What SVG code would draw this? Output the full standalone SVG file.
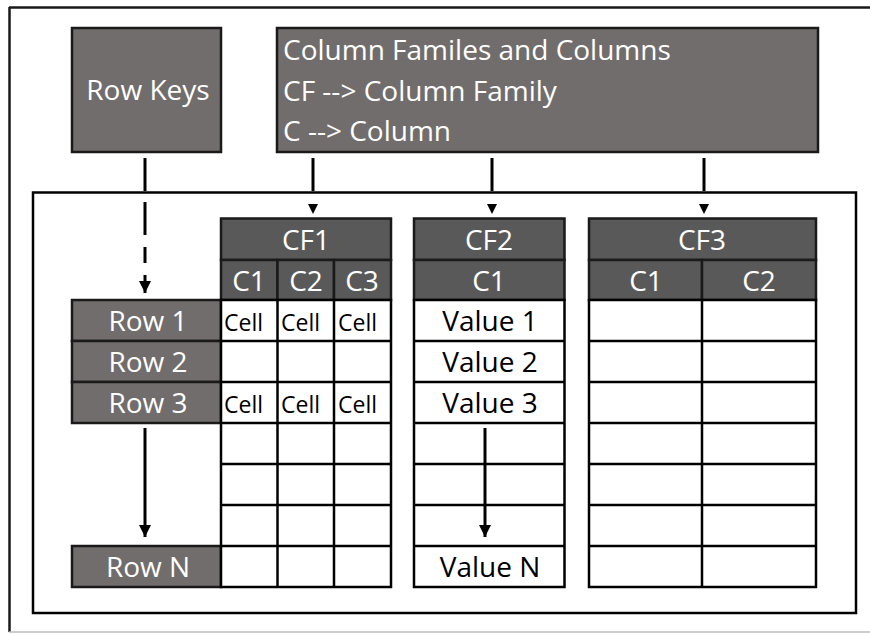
<svg xmlns="http://www.w3.org/2000/svg" width="870" height="634" viewBox="0 0 870 634">
<defs>
<marker id="ah" viewBox="0 0 10 10" refX="10" refY="5" markerWidth="12" markerHeight="12" markerUnits="userSpaceOnUse" orient="auto"><path d="M0,0 L10,5 L0,10 z" fill="#000"/></marker>
</defs>
<style>
.frame{fill:none;stroke:#000;stroke-width:2.5}
.key{fill:#716d6c;stroke:#1a1a1a;stroke-width:2.5}
.hdr{fill:#595959;stroke:#1a1a1a;stroke-width:2.5}
.cell{fill:#fff;stroke:#000;stroke-width:2.5}
.wt{font-family:"Open Sans","Noto Sans",sans-serif;fill:#fff;font-size:28px}
.bt{font-family:"Open Sans","Noto Sans",sans-serif;fill:#000;font-size:28px}
.ct{font-family:"Open Sans","Noto Sans",sans-serif;fill:#000;font-size:23px}
.mid{text-anchor:middle}
.conn{stroke:#000;stroke-width:3;fill:none}
</style>
<rect width="870" height="634" fill="#fff"/>
<g id="outer-frame">
<line x1="9" y1="7.5" x2="870" y2="7.5" stroke="#1a1a1a" stroke-width="2.5"/>
<line x1="9.5" y1="7" x2="9.5" y2="632" stroke="#1a1a1a" stroke-width="2.5"/>
<line x1="9" y1="632" x2="870" y2="632" stroke="#bdbdbd" stroke-width="1.5"/>
</g>
<g id="inner-frame"><rect class="frame" x="33" y="192.5" width="823" height="420.5"/></g>

<g id="row-keys">
<rect class="key" x="72" y="28" width="149" height="124"/>
<text class="wt mid" x="148" y="100">Row Keys</text>
</g>
<g id="column-families">
<rect class="key" x="277" y="28" width="541" height="124"/>
<text class="wt" x="283" y="60">Column Familes and Columns</text>
<text class="wt" x="283" y="101">CF --&gt; Column Family</text>
<text class="wt" x="283" y="141">C --&gt; Column</text>
</g>

<g id="row-labels">
<rect class="key" x="72" y="300" width="149" height="41"/>
<text class="wt mid" x="148" y="331">Row 1</text>
<rect class="key" x="72" y="341" width="149" height="41"/>
<text class="wt mid" x="148" y="372">Row 2</text>
<rect class="key" x="72" y="382" width="149" height="41"/>
<text class="wt mid" x="148" y="413">Row 3</text>
<rect class="key" x="72" y="546" width="149" height="41"/>
<text class="wt mid" x="148" y="577">Row N</text>
</g>

<g id="cf1">
<rect class="hdr" x="221" y="218.5" width="170" height="41.5"/>
<text class="wt mid" x="306" y="250">CF1</text>
<rect class="hdr" x="221" y="260" width="56.5" height="40"/>
<rect class="hdr" x="277.5" y="260" width="56.5" height="40"/>
<rect class="hdr" x="334" y="260" width="57" height="40"/>
<text class="wt mid" x="249" y="291">C1</text>
<text class="wt mid" x="306" y="291">C2</text>
<text class="wt mid" x="362" y="291">C3</text>
<rect class="cell" x="221" y="300" width="170" height="287"/>
<path class="cell" d="M277.5,300V587M334,300V587M221,341H391M221,382H391M221,423H391M221,464H391M221,505H391M221,546H391"/>
<text class="ct" x="224" y="331">Cell</text>
<text class="ct" x="281" y="331">Cell</text>
<text class="ct" x="338" y="331">Cell</text>
<text class="ct" x="224" y="413">Cell</text>
<text class="ct" x="281" y="413">Cell</text>
<text class="ct" x="338" y="413">Cell</text>
</g>

<g id="cf2">
<rect class="hdr" x="414" y="218.5" width="150.5" height="41.5"/>
<text class="wt mid" x="489" y="250">CF2</text>
<rect class="hdr" x="414" y="260" width="150.5" height="40"/>
<text class="wt mid" x="489" y="291">C1</text>
<rect class="cell" x="414" y="300" width="150.5" height="287"/>
<path class="cell" d="M414,341H564.5M414,382H564.5M414,423H564.5M414,464H564.5M414,505H564.5M414,546H564.5"/>
<text class="bt mid" x="490" y="331">Value 1</text>
<text class="bt mid" x="490" y="372">Value 2</text>
<text class="bt mid" x="490" y="413">Value 3</text>
<text class="bt mid" x="490" y="577">Value N</text>
</g>

<g id="cf3">
<rect class="hdr" x="589" y="218.5" width="227" height="41.5"/>
<text class="wt mid" x="702" y="250">CF3</text>
<rect class="hdr" x="589" y="260" width="113" height="40"/>
<rect class="hdr" x="702" y="260" width="114" height="40"/>
<text class="wt mid" x="646" y="291">C1</text>
<text class="wt mid" x="759" y="291">C2</text>
<rect class="cell" x="589" y="300" width="227" height="287"/>
<path class="cell" d="M702,300V587M589,341H816M589,382H816M589,423H816M589,464H816M589,505H816M589,546H816"/>
</g>

<g id="connectors">
<line class="conn" x1="145" y1="158" x2="145" y2="191" />
<line class="conn" x1="145" y1="202" x2="145" y2="235" />
<line class="conn" x1="145" y1="247" x2="145" y2="263" />
<line class="conn" x1="145" y1="275" x2="145" y2="293" marker-end="url(#ah)"/>
<line class="conn" x1="313" y1="158" x2="313" y2="191"/>
<polygon points="308,204 318,204 313,214" fill="#000"/>
<line class="conn" x1="492" y1="158" x2="492" y2="191"/>
<polygon points="487,204 497,204 492,214" fill="#000"/>
<line class="conn" x1="704" y1="158" x2="704" y2="191"/>
<polygon points="699,204 709,204 704,214" fill="#000"/>
<line class="conn" x1="145" y1="428" x2="145" y2="537" marker-end="url(#ah)"/>
<line class="conn" x1="485" y1="428" x2="485" y2="537" marker-end="url(#ah)"/>
</g>
</svg>
